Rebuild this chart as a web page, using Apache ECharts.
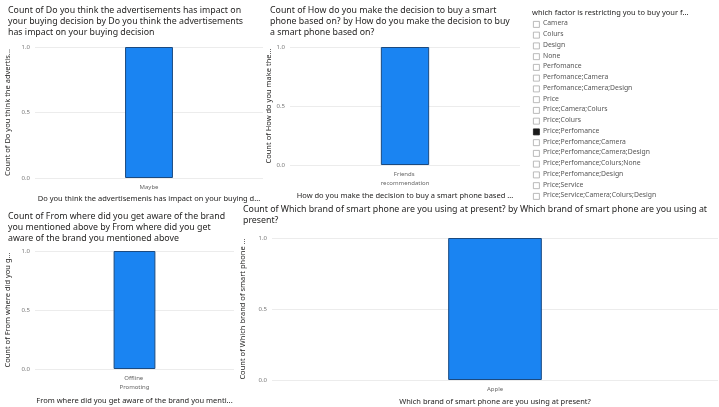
<!DOCTYPE html>
<html>
<head>
<meta charset="utf-8">
<script src="https://cdn.jsdelivr.net/npm/echarts@6/dist/echarts.min.js"></script>
<style>
html,body{margin:0;padding:0;background:#fff;}
#c{width:719px;height:407px;}
</style>
</head>
<body>
<div id="c"></div>
<script>
// ---- data ----
var adCategories = ["Maybe"];
var adCounts = [1];
var decisionCategories = ["Friends recommendation"];
var decisionCounts = [1];
var awareCategories = ["Offline Promoting"];
var awareCounts = [1];
var brandCategories = ["Apple"];
var brandCounts = [1];
var yTicks = [0, 0.5, 1];
var slicerItems = ["Camera","Colurs","Design","None","Perfomance","Perfomance;Camera","Perfomance;Camera;Design","Price","Price;Camera;Colurs","Price;Colurs","Price;Perfomance","Price;Perfomance;Camera","Price;Perfomance;Camera;Design","Price;Perfomance;Colurs;None","Price;Perfomance;Design","Price;Service","Price;Service;Camera;Colurs;Design"];
var slicerSelected = ["Price;Perfomance"];

var titles = [
  "Count of Do you think the advertisements has impact on\nyour buying decision by Do you think the advertisements\nhas impact on your buying decision",
  "Count of How do you make the decision to buy a smart\nphone based on? by How do you make the decision to buy\na smart phone based on?",
  "Count of From where did you get aware of the brand\nyou mentioned above by From where did you get\naware of the brand you mentioned above",
  "Count of Which brand of smart phone are you using at present? by Which brand of smart phone are you using at\npresent?"
];
var xNames = [
  "Do you think the advertisemenis has impact on your buying d...",
  "How do you make the decision to buy a smart phone based ...",
  "From where did you get aware of the brand you menti...",
  "Which brand of smart phone are you using at present?"
];
var yNames = [
  "Count of Do you think the advertis...",
  "Count of How do you make the...",
  "Count of From where did you g...",
  "Count of Which brand of smart phone ..."
];
var slicerTitle = "which factor is restricting you to buy your f...";

var FONT = "'Noto Sans', 'DejaVu Sans', sans-serif";
var chart = echarts.init(document.getElementById('c'), null, {renderer: 'canvas'});

var grids = [
  {left: 35, top: 47, width: 228, height: 131},
  {left: 290, top: 47, width: 230, height: 118},
  {left: 35, top: 251, width: 199, height: 118},
  {left: 272, top: 238, width: 446, height: 144}
];
var xNameGaps = [17, 27, 28, 18];
var yNameGaps = [23, 15, 23, 25];
var labelWidths = [60, 60, 35, 60];
var cats = [adCategories, decisionCategories, awareCategories, brandCategories];
var vals = [adCounts, decisionCounts, awareCounts, brandCounts];
var titlePos = [{left: 8, top: 5}, {left: 270, top: 5}, {left: 8, top: 211}, {left: 243, top: 204}];

var option = {
  backgroundColor: '#ffffff',
  animation: false,
  title: titles.map(function (t, i) {
    return {text: t, left: titlePos[i].left, top: titlePos[i].top, padding: 0,
      textStyle: {fontFamily: FONT, fontSize: 8.8, fontWeight: 'normal', color: '#252423', lineHeight: 11}};
  }),
  grid: grids.map(function (g) { return Object.assign({containLabel: false}, g); }),
  xAxis: cats.map(function (c, i) {
    return {type: 'category', gridIndex: i, data: c,
      name: xNames[i], nameLocation: 'middle', nameGap: xNameGaps[i],
      nameTextStyle: {fontFamily: FONT, fontSize: 7.5, color: '#252423'},
      axisLine: {show: false}, axisTick: {show: false},
      axisLabel: {fontFamily: FONT, fontSize: 6, color: '#666', margin: 5, width: labelWidths[i], overflow: 'break', lineHeight: 9}};
  }),
  yAxis: cats.map(function (c, i) {
    return {type: 'value', gridIndex: i, min: yTicks[0], max: yTicks[yTicks.length - 1], interval: yTicks[1] - yTicks[0],
      name: yNames[i], nameLocation: 'middle', nameGap: yNameGaps[i], nameRotate: 90,
      nameTextStyle: {fontFamily: FONT, fontSize: 7.5, color: '#252423'},
      axisLine: {show: false}, axisTick: {show: false},
      axisLabel: {fontFamily: FONT, fontSize: 6, color: '#777', margin: 5, formatter: function (v) { return v.toFixed(1); }},
      splitLine: {show: true, lineStyle: {color: '#ececec', width: 1}}};
  }),
  series: vals.map(function (v, i) {
    return {type: 'bar', xAxisIndex: i, yAxisIndex: i, data: v, barWidth: '21%',
      itemStyle: {color: '#1a84f2', borderColor: '#1b4a80', borderWidth: 1}};
  }),
  graphic: []
};

// slicer
option.graphic.push({type: 'text', left: 532, top: 9,
  style: {text: slicerTitle, font: '7.5px ' + FONT, fill: '#252423'}});
slicerItems.forEach(function (item, k) {
  var y = 21 + k * 10.75;
  var sel = slicerSelected.indexOf(item) >= 0;
  option.graphic.push({type: 'rect', left: 533, top: y,
    shape: {width: 6, height: 6},
    style: {fill: sel ? '#1a1a1a' : '#fff', stroke: sel ? '#1a1a1a' : '#aaa', lineWidth: 0.8}});
  option.graphic.push({type: 'text', left: 543, top: y - 1,
    style: {text: item, font: '6.8px ' + FONT, fill: '#555'}});
});

chart.setOption(option);
</script>
</body>
</html>
